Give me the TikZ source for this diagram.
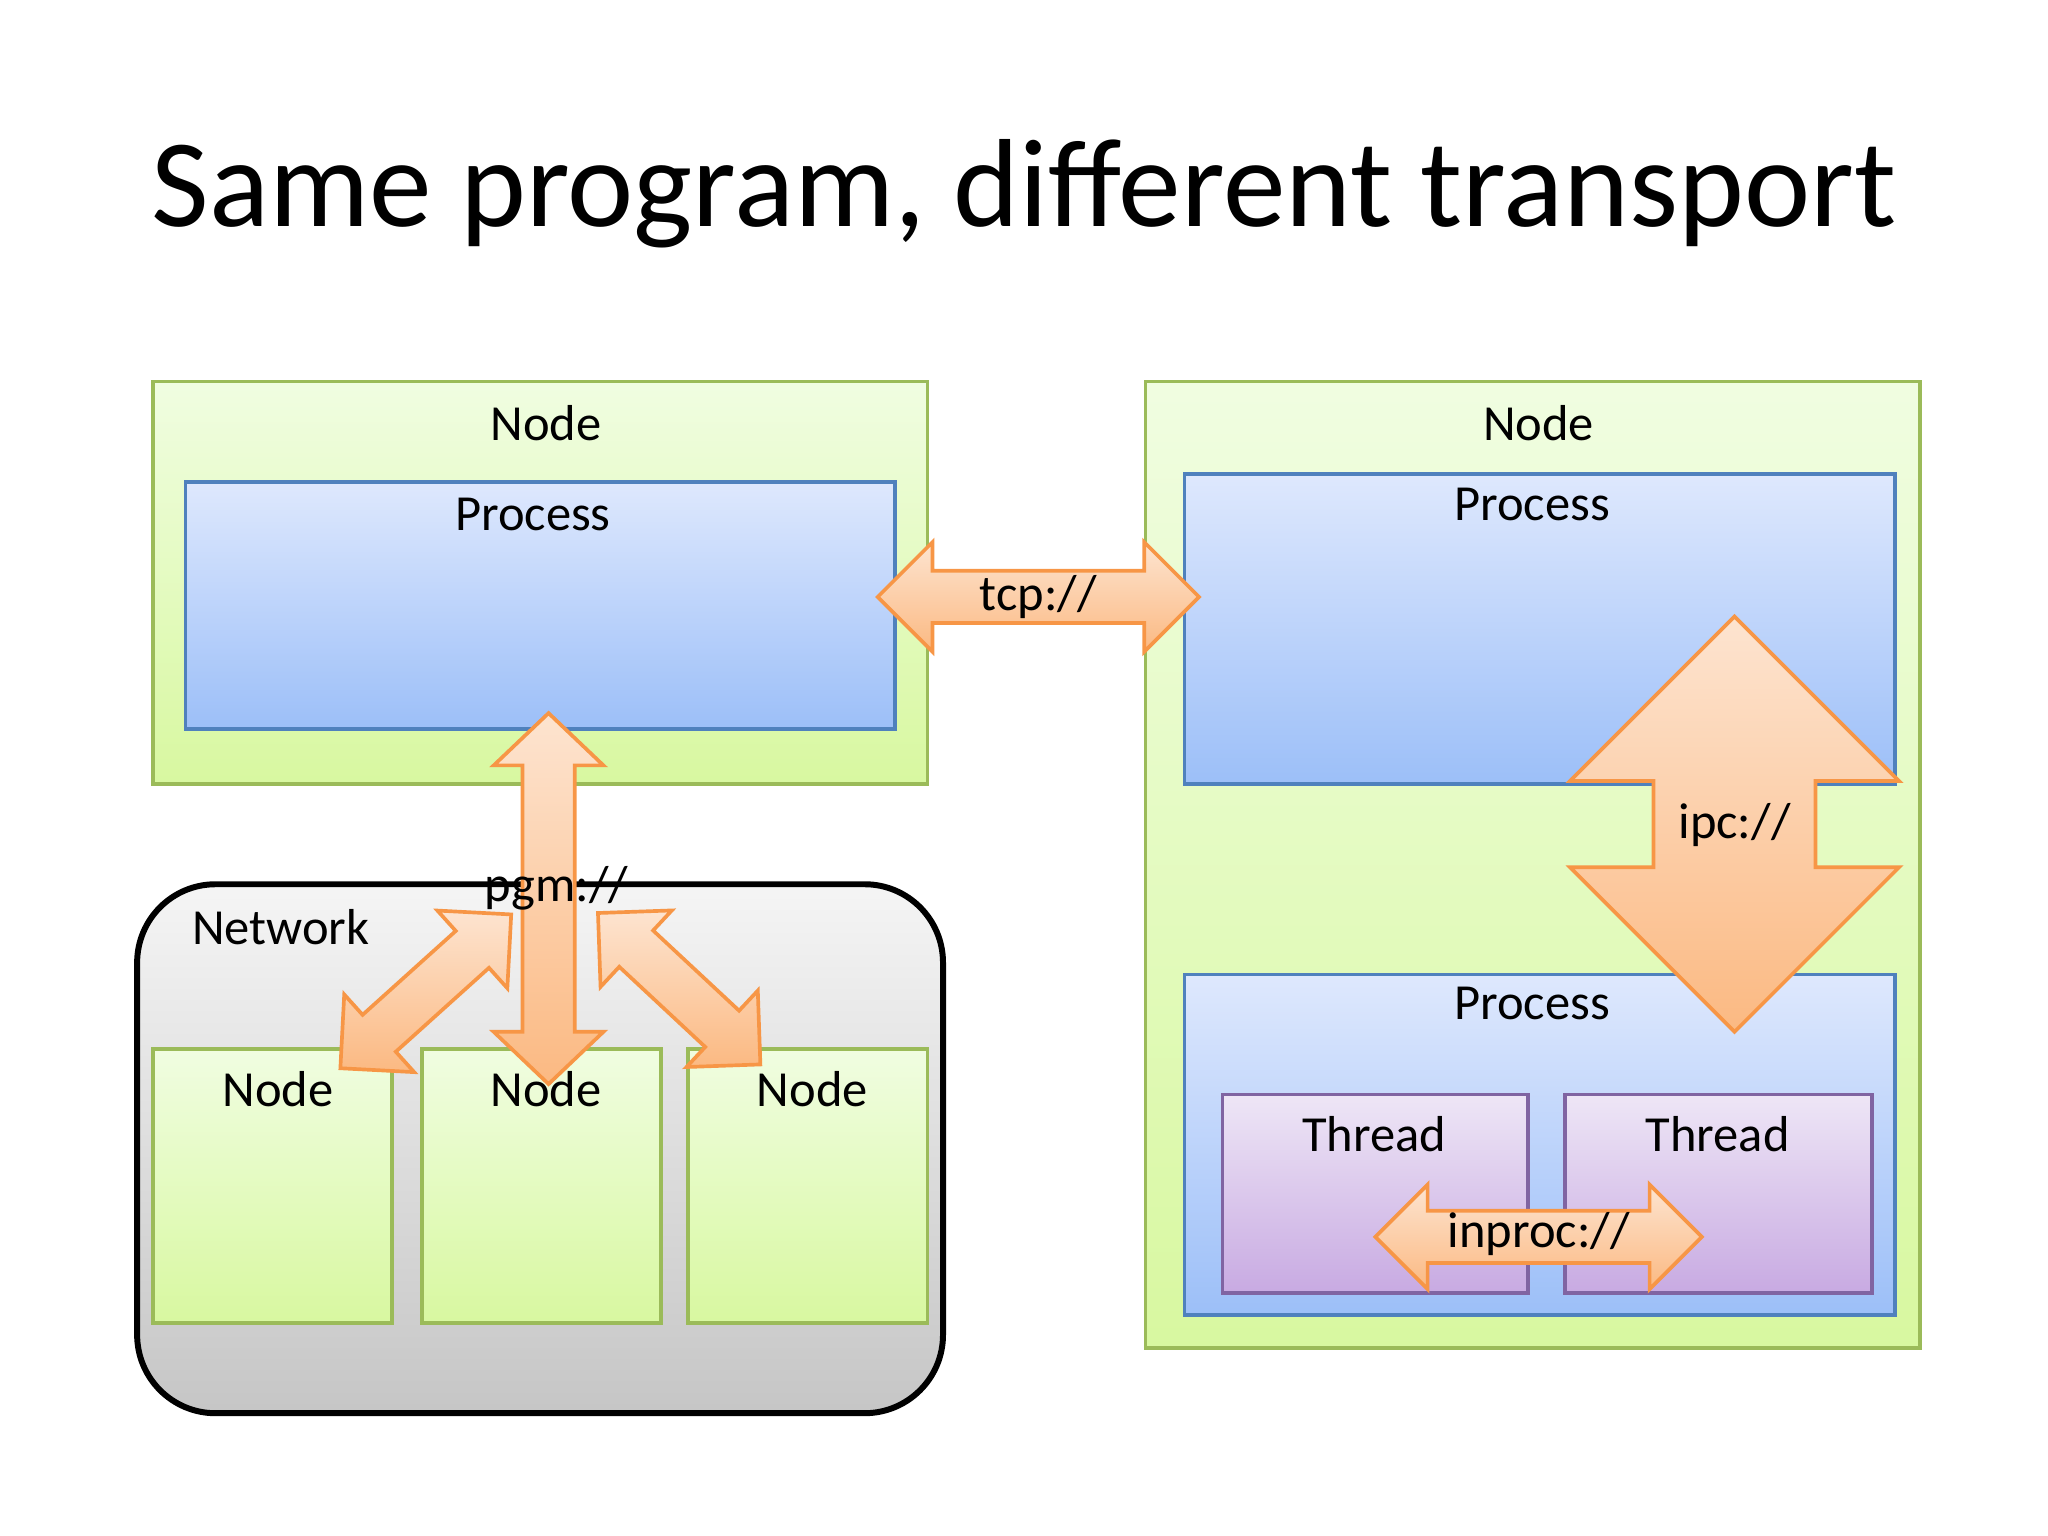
\documentclass[tikz,border=0pt]{standalone}
\usepackage{fontspec}
\setmainfont{Carlito}
\definecolor{gb}{RGB}{155,187,89}
\definecolor{bb}{RGB}{79,129,189}
\definecolor{pb}{RGB}{128,100,162}
\begin{document}
\begin{tikzpicture}[x=0.01cm,y=-0.01cm,
  lbl/.style={font=\fontsize{11}{13}\selectfont},
  green/.style={draw=gb,line width=0.8pt,top color={rgb,255:red,240;green,253;blue,225},bottom color={rgb,255:red,216;green,248;blue,160}},
  blue/.style={draw=bb,line width=0.8pt,top color={rgb,255:red,222;green,232;blue,253},bottom color={rgb,255:red,156;green,191;blue,248}},
  purp/.style={draw=pb,line width=0.8pt,top color={rgb,255:red,238;green,230;blue,246},bottom color={rgb,255:red,200;green,170;blue,226}},
  pics/dbl/.style n args={5}{code={
    \path[draw={rgb,255:red,247;green,150;blue,70},line width=0.8pt,
      top color={rgb,255:red,253;green,228;blue,208},bottom color={rgb,255:red,251;green,185;blue,130},shading angle=#5]
      (-#1,0)--(-#1+#4,#3)--(-#1+#4,#2)--(#1-#4,#2)--(#1-#4,#3)--(#1,0)--(#1-#4,-#3)--(#1-#4,-#2)--(-#1+#4,-#2)--(-#1+#4,-#3)--cycle;}}]
\useasboundingbox (0,0) rectangle (1568,1176);
\node[font=\fontsize{27.3}{31}\selectfont] (title) at (784,148) {Same program, different transport};
% left node
\draw[green] (117,292) rectangle (710,600);
\node[lbl] (n1) at (418,324) {Node};
\draw[blue] (142,369) rectangle (685,558);
\node[lbl] (p1) at (408,394) {Process};
% right node
\draw[green] (877,292) rectangle (1470,1032);
\node[lbl] (n2) at (1178,324) {Node};
\draw[blue] (907,363) rectangle (1451,600);
\node[lbl] (p2) at (1173,386) {Process};
\draw[blue] (907,746) rectangle (1451,1007);
\node[lbl] (p3) at (1173,768) {Process};
\draw[purp] (936,838) rectangle (1170,990);
\node[lbl] (t1) at (1052,868) {Thread};
\draw[purp] (1198,838) rectangle (1433,990);
\node[lbl] (t2) at (1315,868) {Thread};
% network
\draw[line width=1.3pt,rounded corners=0.6cm,top color=gray!8,bottom color=gray!45] (105,677) rectangle (722,1082);
\node[lbl] (net) at (215,710) {Network};
\foreach \x/\c [count=\i] in {117/213,323/418,527/622}{
  \draw[green] (\x,803) rectangle (\x+183,1013);
  \node[lbl] (sn\i) at (\c,834) {Node};
}
% arrows
\pic at (795,457) {dbl={123}{20}{42}{42}{0}};
\node[lbl] (tcp) at (795,457) {tcp://};
\pic[rotate=90] at (1328,631) {dbl={159}{62}{126}{126}{0}};
\node[lbl] (ipc) at (1328,632) {ipc://};
\pic at (1178,947) {dbl={125}{20}{40}{40}{0}};
\node[lbl] (inproc) at (1178,945) {inproc://};
\pic[rotate=42] at (326,759) {dbl={88}{19}{40}{40}{0}};
\pic[rotate=-43] at (520,757) {dbl={85}{19}{40}{40}{0}};
\pic[rotate=90] at (420,688) {dbl={142}{20}{42}{40}{0}};
\node[lbl] (pgm) at (426,680) {pgm://};
\end{tikzpicture}
\end{document}
